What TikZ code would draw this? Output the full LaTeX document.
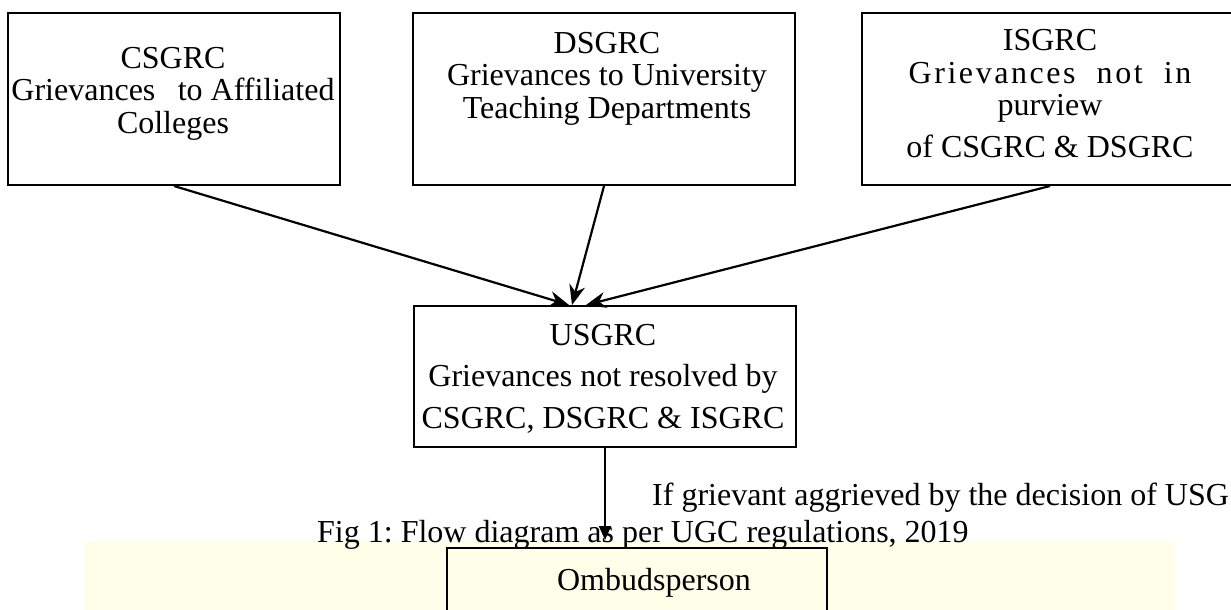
\documentclass[tikz,border=0pt]{standalone}
\usepackage{fontspec}
\setmainfont{Liberation Serif}
\usetikzlibrary{arrows.meta, positioning}
\definecolor{bandyellow}{RGB}{255, 254, 232}
\frenchspacing

\begin{document}
\begin{tikzpicture}[
    x=1pt, y=-1pt,
    box/.style={rectangle, draw=black, line width=2pt, inner sep=0pt},
    boxtext/.style={align=center, anchor=base, inner sep=0pt, font=\fontsize{32}{32.5}\selectfont},
    arrow/.style={-{Stealth[length=20pt, width=16pt]}, line width=2.2pt},
    thinarrow/.style={-{Triangle[length=14pt, width=12pt]}, line width=1.5pt}
]
\useasboundingbox (0,0) rectangle (1231,610);
\clip (0,0) rectangle (1231,610);

% faint band at the foot
\fill[bandyellow] (85,541) rectangle (1175,610);

% committees (text nodes sit on their last baseline)
\node[box, minimum width=332pt, minimum height=172pt] (csgrc) at (174,99) {};
\node[boxtext] (csgrctext) at (173,133) {CSGRC\\Grievances\hspace{0.7em}to Affiliated\\Colleges};

\node[box, minimum width=382pt, minimum height=172pt] (dsgrc) at (604,99) {};
\node[boxtext] (dsgrctext) at (607,118) {DSGRC\\Grievances to University\\Teaching Departments};

\node[box, minimum width=376pt, minimum height=172pt] (isgrc) at (1050,99) {};
\node[boxtext] (isgrctext) at (1050,157) {ISGRC\\{\addfontfeatures{LetterSpace=8}Grievances\ \ not\ \ in}\\purview\\[9pt]of CSGRC \& DSGRC};

\node[box, minimum width=382pt, minimum height=141pt] (usgrc) at (605,376.5) {};
\node[boxtext, font=\fontsize{32}{41.5}\selectfont] (usgrctext) at (603,428) {USGRC\\Grievances not resolved by\\CSGRC, DSGRC \& ISGRC};

\node[box, minimum width=380pt, minimum height=132pt] (ombud) at (637,614) {};
\node[boxtext] (ombudtext) at (654,590) {Ombudsperson};

% arrows into USGRC
\draw[arrow] (csgrc.south) -- ([xshift=-36pt]usgrc.north);
\draw[arrow] (dsgrc.south) -- ([xshift=-33pt]usgrc.north);
\draw[arrow] (isgrc.south) -- ([xshift=-19pt]usgrc.north);

% down to the ombudsperson
\coordinate (tip) at (605,540);
\draw[thinarrow] (usgrc.south) -- (tip);

\node[boxtext, anchor=base west] (appeal) at (652,505) {If grievant aggrieved by the decision of USG};
\node[boxtext, anchor=base west] (caption) at (317,542) {Fig 1: Flow diagram as per UGC regulations, 2019};

\end{tikzpicture}
\end{document}
